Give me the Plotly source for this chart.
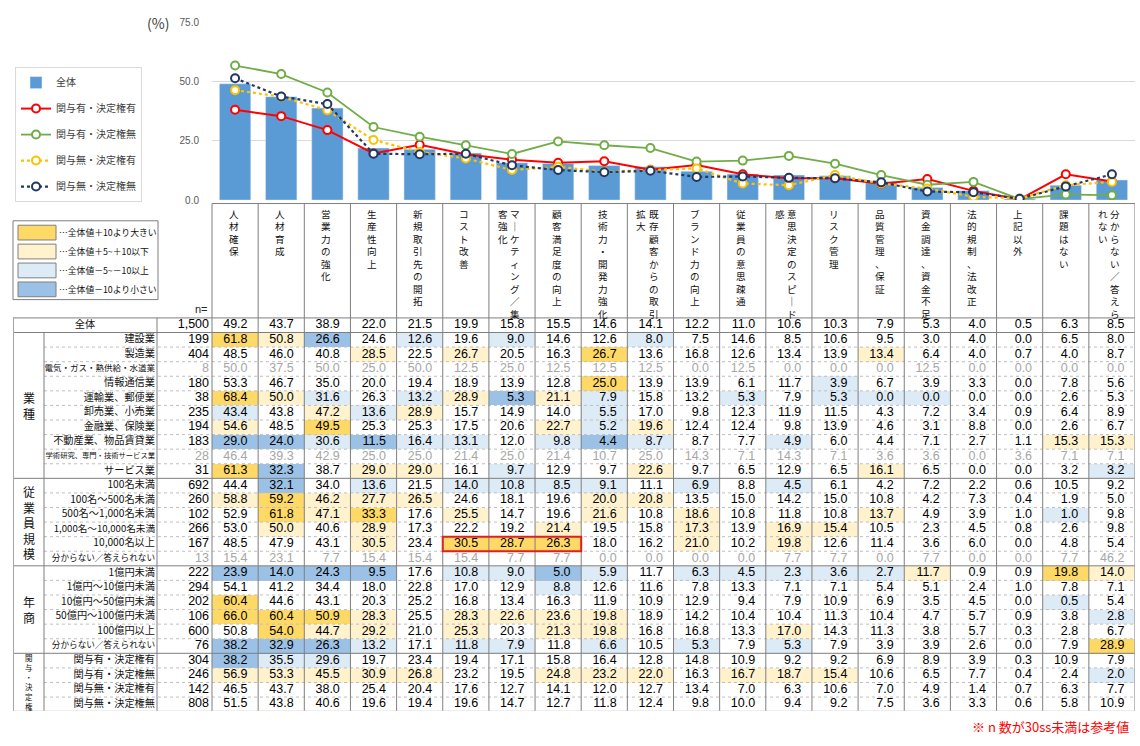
import plotly.graph_objects as go

W, H = 1140, 746
FONT = "Noto Sans CJK JP"
NUMFONT = "Liberation Sans"

# ---------------- data ----------------
categories = ["人材確保", "人材育成", "営業力の強化", "生産性向上", "新規取引先の開拓", "コスト改善",
              "マーケティング／集客強化", "顧客満足度の向上", "技術力・開発力強化", "既存顧客からの取引拡大",
              "ブランド力の向上", "従業員の意思疎通", "意思決定のスピード感", "リスク管理", "品質管理、保証",
              "資金調達、資金不足", "法的規制、法改正", "上記以外", "課題はない", "分からない／答えられない"]

total_label = "全体"
total_n = 1500
values_total = [49.2, 43.7, 38.9, 22.0, 21.5, 19.9, 15.8, 15.5, 14.6, 14.1, 12.2, 11.0, 10.6, 10.3, 7.9, 5.3, 4.0, 0.5, 6.3, 8.5]

industry_labels = ["建設業", "製造業", "電気・ガス・熱供給・水道業", "情報通信業", "運輸業、郵便業", "卸売業、小売業",
                   "金融業、保険業", "不動産業、物品賃貸業", "学術研究、専門・技術サービス業", "サービス業"]
industry_n = [199, 404, 8, 180, 38, 235, 194, 183, 28, 31]
values_industry = [
    [61.8, 50.8, 26.6, 24.6, 12.6, 19.6, 9.0, 14.6, 12.6, 8.0, 7.5, 14.6, 8.5, 10.6, 9.5, 3.0, 4.0, 0.0, 6.5, 8.0],
    [48.5, 46.0, 40.8, 28.5, 22.5, 26.7, 20.5, 16.3, 26.7, 13.6, 16.8, 12.6, 13.4, 13.9, 13.4, 6.4, 4.0, 0.7, 4.0, 8.7],
    [50.0, 37.5, 50.0, 25.0, 50.0, 12.5, 25.0, 12.5, 12.5, 12.5, 0.0, 12.5, 0.0, 0.0, 0.0, 12.5, 0.0, 0.0, 0.0, 0.0],
    [53.3, 46.7, 35.0, 20.0, 19.4, 18.9, 13.9, 12.8, 25.0, 13.9, 13.9, 6.1, 11.7, 3.9, 6.7, 3.9, 3.3, 0.0, 7.8, 5.6],
    [68.4, 50.0, 31.6, 26.3, 13.2, 28.9, 5.3, 21.1, 7.9, 15.8, 13.2, 5.3, 7.9, 5.3, 0.0, 0.0, 0.0, 0.0, 2.6, 5.3],
    [43.4, 43.8, 47.2, 13.6, 28.9, 15.7, 14.9, 14.0, 5.5, 17.0, 9.8, 12.3, 11.9, 11.5, 4.3, 7.2, 3.4, 0.9, 6.4, 8.9],
    [54.6, 48.5, 49.5, 25.3, 25.3, 17.5, 20.6, 22.7, 5.2, 19.6, 12.4, 12.4, 9.8, 13.9, 4.6, 3.1, 8.8, 0.0, 2.6, 6.7],
    [29.0, 24.0, 30.6, 11.5, 16.4, 13.1, 12.0, 9.8, 4.4, 8.7, 8.7, 7.7, 4.9, 6.0, 4.4, 7.1, 2.7, 1.1, 15.3, 15.3],
    [46.4, 39.3, 42.9, 25.0, 25.0, 21.4, 25.0, 21.4, 10.7, 25.0, 14.3, 7.1, 14.3, 7.1, 3.6, 3.6, 0.0, 3.6, 7.1, 7.1],
    [61.3, 32.3, 38.7, 29.0, 29.0, 16.1, 9.7, 12.9, 9.7, 22.6, 9.7, 6.5, 12.9, 6.5, 16.1, 6.5, 0.0, 0.0, 3.2, 3.2],
]

employee_labels = ["100名未満", "100名～500名未満", "500名～1,000名未満", "1,000名～10,000名未満", "10,000名以上", "分からない／答えられない"]
employee_n = [692, 260, 102, 266, 167, 13]
values_employee = [
    [44.4, 32.1, 34.0, 13.6, 21.5, 14.0, 10.8, 8.5, 9.1, 11.1, 6.9, 8.8, 4.5, 6.1, 4.2, 7.2, 2.2, 0.6, 10.5, 9.2],
    [58.8, 59.2, 46.2, 27.7, 26.5, 24.6, 18.1, 19.6, 20.0, 20.8, 13.5, 15.0, 14.2, 15.0, 10.8, 4.2, 7.3, 0.4, 1.9, 5.0],
    [52.9, 61.8, 47.1, 33.3, 17.6, 25.5, 14.7, 19.6, 21.6, 10.8, 18.6, 10.8, 11.8, 10.8, 13.7, 4.9, 3.9, 1.0, 1.0, 9.8],
    [53.0, 50.0, 40.6, 28.9, 17.3, 22.2, 19.2, 21.4, 19.5, 15.8, 17.3, 13.9, 16.9, 15.4, 10.5, 2.3, 4.5, 0.8, 2.6, 9.8],
    [48.5, 47.9, 43.1, 30.5, 23.4, 30.5, 28.7, 26.3, 18.0, 16.2, 21.0, 10.2, 19.8, 12.6, 11.4, 3.6, 6.0, 0.0, 4.8, 5.4],
    [15.4, 23.1, 7.7, 15.4, 15.4, 15.4, 7.7, 7.7, 0.0, 0.0, 0.0, 0.0, 7.7, 7.7, 0.0, 7.7, 0.0, 0.0, 7.7, 46.2],
]

revenue_labels = ["1億円未満", "1億円～10億円未満", "10億円～50億円未満", "50億円～100億円未満", "100億円以上", "分からない／答えられない"]
revenue_n = [222, 294, 202, 106, 600, 76]
values_revenue = [
    [23.9, 14.0, 24.3, 9.5, 17.6, 10.8, 9.0, 5.0, 5.9, 11.7, 6.3, 4.5, 2.3, 3.6, 2.7, 11.7, 0.9, 0.9, 19.8, 14.0],
    [54.1, 41.2, 34.4, 18.0, 22.8, 17.0, 12.9, 8.8, 12.6, 11.6, 7.8, 13.3, 7.1, 7.1, 5.4, 5.1, 2.4, 1.0, 7.8, 7.1],
    [60.4, 44.6, 43.1, 20.3, 25.2, 16.8, 13.4, 16.3, 11.9, 10.9, 12.9, 9.4, 7.9, 10.9, 6.9, 3.5, 4.5, 0.0, 0.5, 5.4],
    [66.0, 60.4, 50.9, 28.3, 25.5, 28.3, 22.6, 23.6, 19.8, 18.9, 14.2, 10.4, 10.4, 11.3, 10.4, 4.7, 5.7, 0.9, 3.8, 2.8],
    [50.8, 54.0, 44.7, 29.2, 21.0, 25.3, 20.3, 21.3, 19.8, 16.8, 16.8, 13.3, 17.0, 14.3, 11.3, 3.8, 5.7, 0.3, 2.8, 6.7],
    [38.2, 32.9, 26.3, 13.2, 17.1, 11.8, 7.9, 11.8, 6.6, 10.5, 5.3, 7.9, 5.3, 7.9, 3.9, 3.9, 2.6, 0.0, 7.9, 28.9],
]

involvement_labels = ["関与有・決定権有", "関与有・決定権無", "関与無・決定権有", "関与無・決定権無"]
involvement_n = [304, 246, 142, 808]
values_involvement = [
    [38.2, 35.5, 29.6, 19.7, 23.4, 19.4, 17.1, 15.8, 16.4, 12.8, 14.8, 10.9, 9.2, 9.2, 6.9, 8.9, 3.9, 0.3, 10.9, 7.9],
    [56.9, 53.3, 45.5, 30.9, 26.8, 23.2, 19.5, 24.8, 23.2, 22.0, 16.3, 16.7, 18.7, 15.4, 10.6, 6.5, 7.7, 0.4, 2.4, 2.0],
    [46.5, 43.7, 38.0, 25.4, 20.4, 17.6, 12.7, 14.1, 12.0, 12.7, 13.4, 7.0, 6.3, 10.6, 7.0, 4.9, 1.4, 0.7, 6.3, 7.7],
    [51.5, 43.8, 40.6, 19.6, 19.4, 19.6, 14.7, 12.7, 11.8, 12.4, 9.8, 10.0, 9.4, 9.2, 7.5, 3.6, 3.3, 0.6, 5.8, 10.9],
]

group_names = ["業種", "従業員規模", "年商", "関与・決定権"]
y_ticks = [0, 25, 50, 75]
color_legend_texts = ["…全体値＋10より大きい", "…全体値＋5~＋10以下", "…全体値－5~－10以上", "…全体値－10より小さい"]
footnote = "※ n 数が30ss未満は参考値"

# ---------------- styles ----------------
line_colors = ["#FF0000", "#70AD47", "#FFC000", "#1F3864"]
line_dash = ["solid", "solid", "dot", "dot"]
line_width = [2, 1.8, 2.2, 2.2]
class_colors = ["#9BC2E6", "#DDEBF7", "#FFF2CC", "#FFD966"]  # <-10, -10..-5, +5..+10, >+10

# ---------------- layout helpers (pixel geometry) ----------------
COLW = (1135 - 212) / 20.0
ROWP = 14.8
def ux(px):
    return (px - 212) / COLW - 0.5
def ry(py):
    return (py - 324) / ROWP
def pxp(px):
    return px / W
def pyp(py):
    return 1 - py / H

labels = [total_label] + industry_labels + employee_labels + revenue_labels + involvement_labels
ns = [total_n] + industry_n + employee_n + revenue_n + involvement_n
rows = [values_total] + values_industry + values_employee + values_revenue + values_involvement
groups_blocks = [industry_labels, employee_labels, revenue_labels, involvement_labels]

def classify(v, base, n):
    if n < 30:
        return None
    d = round(v - base, 1)
    if d > 10:
        return 4
    if d >= 5:
        return 3
    if d < -10:
        return 1
    if d <= -5:
        return 2
    return None

z = [[classify(v, values_total[c], ns[r]) for c, v in enumerate(row)] for r, row in enumerate(rows)]

fig = go.Figure()

# ---- top chart ----
ncat = len(categories)
fig.add_trace(go.Bar(x=list(range(ncat)), y=values_total, name=total_label, width=0.68,
                     marker=dict(color="#5B9BD5"), legendgroup="g0", hoverinfo="skip"))
for i, lab in enumerate(involvement_labels):
    fig.add_trace(go.Scatter(
        x=list(range(ncat)), y=values_involvement[i], name=lab, mode="lines+markers",
        line=dict(color=line_colors[i], width=line_width[i], dash=line_dash[i]),
        marker=dict(symbol="circle", size=8, color="white", line=dict(color=line_colors[i], width=2)),
        legendgroup="g%d" % (i + 1), hoverinfo="skip"))

# ---- table cell fills ----
fig.add_trace(go.Heatmap(
    x=list(range(ncat)), y=list(range(len(rows))), z=z, xaxis="x2", yaxis="y2",
    zmin=0.5, zmax=4.5, showscale=False, hoverinfo="skip",
    colorscale=[[0, class_colors[0]], [0.25, class_colors[0]], [0.25, class_colors[1]], [0.5, class_colors[1]],
                [0.5, class_colors[2]], [0.75, class_colors[2]], [0.75, class_colors[3]], [1, class_colors[3]]]))

# ---- table numbers ----
tx, ty, tt, tc = [], [], [], []
for r, row in enumerate(rows):
    col = "#A6A6A6" if ns[r] < 30 else "#000000"
    tx.append(ux(209)); ty.append(r); tt.append(f"{ns[r]:,}"); tc.append(col)
    for c, v in enumerate(row):
        tx.append(c + 0.27); ty.append(r); tt.append(f"{v:.1f}"); tc.append(col)
fig.add_trace(go.Scatter(x=tx, y=ty, text=tt, mode="text", textposition="middle left",
                         textfont=dict(family=NUMFONT, size=12.5, color=tc), xaxis="x2", yaxis="y2",
                         showlegend=False, hoverinfo="skip"))

# ---- row labels ----
lx, ly, lt, lp, ls = [], [], [], [], []
for r, lab in enumerate(labels):
    if r == 0:
        lx.append(ux(85)); lp.append("middle center")
    else:
        lx.append(ux(155)); lp.append("middle left")
    ly.append(r); lt.append(lab)
    if lab == "学術研究、専門・技術サービス業":
        ls.append(7.3)
    elif lab == "電気・ガス・熱供給・水道業":
        ls.append(8.5)
    elif lab == "分からない／答えられない":
        ls.append(8.6)
    elif lab == "1,000名～10,000名未満":
        ls.append(9.6)
    else:
        ls.append(10.2)
fig.add_trace(go.Scatter(x=lx, y=ly, text=lt, mode="text", textposition=lp,
                         textfont=dict(family=FONT, size=ls, color="#111111"), xaxis="x2", yaxis="y2",
                         showlegend=False, hoverinfo="skip"))

annotations = []

# ---- group labels (vertical) ----
start = 1
for gname, blk in zip(group_names, groups_blocks):
    end = start + len(blk) - 1
    small = len(gname) > 5
    annotations.append(dict(x=ux(28.5), y=(start + end) / 2.0, xref="x2", yref="y2",
                            text="<br>".join(list(gname)), showarrow=False, xanchor="center", yanchor="middle",
                            font=dict(family=FONT, size=7.5 if small else 12, color="#111111")))
    start = end + 1

# ---- header (vertical text) ----
MAXC = 9
for c, cat in enumerate(categories):
    chars = ["｜" if ch == "ー" else ch for ch in cat]
    if len(chars) <= MAXC:
        cols = [(chars, c - 0.03)]
    else:
        cols = [(chars[:MAXC], c + 0.07), (chars[MAXC:], c - 0.2)]
    for seq, xx in cols:
        annotations.append(dict(x=xx, y=ry(202.5), xref="x2", yref="y2", text="<br>".join(seq),
                                showarrow=False, xanchor="center", yanchor="top", borderpad=0,
                                font=dict(family=FONT, size=9.6, color="#111111")))

# ---- table grid ----
shapes = []
def hline(y, x0, x1, color="#808080", width=1, dash="solid"):
    shapes.append(dict(type="line", xref="x2", yref="y2", x0=x0, x1=x1, y0=y, y1=y,
                       line=dict(color=color, width=width, dash=dash)))
def vline(x, y0, y1, color="#808080", width=1):
    shapes.append(dict(type="line", xref="x2", yref="y2", x0=x, x1=x, y0=y0, y1=y1,
                       line=dict(color=color, width=width)))

nrows = len(rows)
last = nrows - 0.5
group_ends = [0]
acc = 0
for blk in groups_blocks[:-1]:
    acc += len(blk)
    group_ends.append(acc)
for r in range(nrows - 1):
    if r in group_ends:
        hline(r + 0.5, ux(13), ncat - 0.5, "#7F7F7F", 1)
    else:
        hline(r + 0.5, ux(44), ncat - 0.5, "#BFBFBF", 1, "dot")
hline(ry(200.5), -0.5, ncat - 0.5, "#7F7F7F", 1)
hline(-0.5, ux(13), ncat - 0.5, "#7F7F7F", 1)
hline(last, ux(13), ncat - 0.5, "#A6A6A6", 2)
for k in range(ncat):
    vline(k - 0.5, ry(200.5), last, "#7F7F7F", 1)
vline(ncat - 0.5, ry(200.5), last, "#A6A6A6", 1.5)
vline(ux(157), -0.5, last, "#7F7F7F", 1)
vline(ux(44), 0.5, last, "#7F7F7F", 1)
vline(ux(13), -0.5, last, "#A6A6A6", 2)
hr = labels.index("10,000名以上")
shapes.append(dict(type="rect", xref="x2", yref="y2", x0=4.5, x1=7.5, y0=hr - 0.5, y1=hr + 0.5,
                   line=dict(color="#E02020", width=2)))

# ---- color legend box ----
shapes.append(dict(type="rect", xref="paper", yref="paper", x0=pxp(13), x1=pxp(158), y0=pyp(298), y1=pyp(218),
                   line=dict(color="#7F7F7F", width=1), fillcolor="white"))
sw_colors = [class_colors[3], class_colors[2], class_colors[1], class_colors[0]]
for i, (txt, colr) in enumerate(zip(color_legend_texts, sw_colors)):
    y0 = 222.5 + i * 19.2
    shapes.append(dict(type="rect", xref="paper", yref="paper", x0=pxp(18), x1=pxp(56),
                       y0=pyp(y0 + 15), y1=pyp(y0), line=dict(color="#7F7F7F", width=1), fillcolor=colr))
    annotations.append(dict(x=pxp(57), y=pyp(y0 + 7.5), xref="paper", yref="paper", text=txt, showarrow=False,
                            xanchor="left", yanchor="middle", font=dict(family=FONT, size=8.8, color="#111111")))

annotations.append(dict(x=pxp(158), y=pyp(17), xref="paper", yref="paper", text="(%)", showarrow=False,
                        xanchor="center", yanchor="middle", font=dict(family=FONT, size=14, color="#404040")))
annotations.append(dict(x=pxp(210), y=pyp(308), xref="paper", yref="paper", text="n=", showarrow=False,
                        xanchor="right", yanchor="middle", font=dict(family=NUMFONT, size=11, color="#262626")))
annotations.append(dict(x=pxp(1131), y=pyp(731), xref="paper", yref="paper", text=footnote, showarrow=False,
                        xanchor="right", yanchor="middle", font=dict(family=FONT, size=13, color="#FF0000")))

fig.update_layout(
    width=W, height=H, margin=dict(l=0, r=0, t=0, b=0),
    paper_bgcolor="white", plot_bgcolor="white",
    font=dict(family=FONT, color="#262626"),
    showlegend=True,
    legend=dict(x=pxp(15), y=pyp(62), xanchor="left", yanchor="top", bgcolor="white",
                bordercolor="#D9D9D9", borderwidth=1, font=dict(family=FONT, size=10, color="#404040"),
                tracegroupgap=7, traceorder="grouped"),
    xaxis=dict(domain=[pxp(212), pxp(1135)], range=[-0.5, ncat - 0.5], visible=False, fixedrange=True),
    yaxis=dict(domain=[pyp(197), pyp(17)], range=[0, 75], tickvals=y_ticks,
               ticktext=[f"{t:.1f}" for t in y_ticks], tickfont=dict(family=NUMFONT, size=10, color="#595959"),
               gridcolor="#D9D9D9", zeroline=False, showline=False, ticklabelstandoff=12, fixedrange=True),
    xaxis2=dict(domain=[pxp(13), pxp(1135)], range=[ux(13), ncat - 0.5], visible=False, anchor="y2", fixedrange=True),
    yaxis2=dict(domain=[pyp(715.4), pyp(200)], range=[ry(715.4), ry(200)], visible=False, anchor="x2", fixedrange=True),
    shapes=shapes, annotations=annotations, bargap=0.3,
)

fig.write_html("out.html", config={"displayModeBar": False},
               post_script="document.body.style.margin='0px';document.body.style.overflow='hidden';")
